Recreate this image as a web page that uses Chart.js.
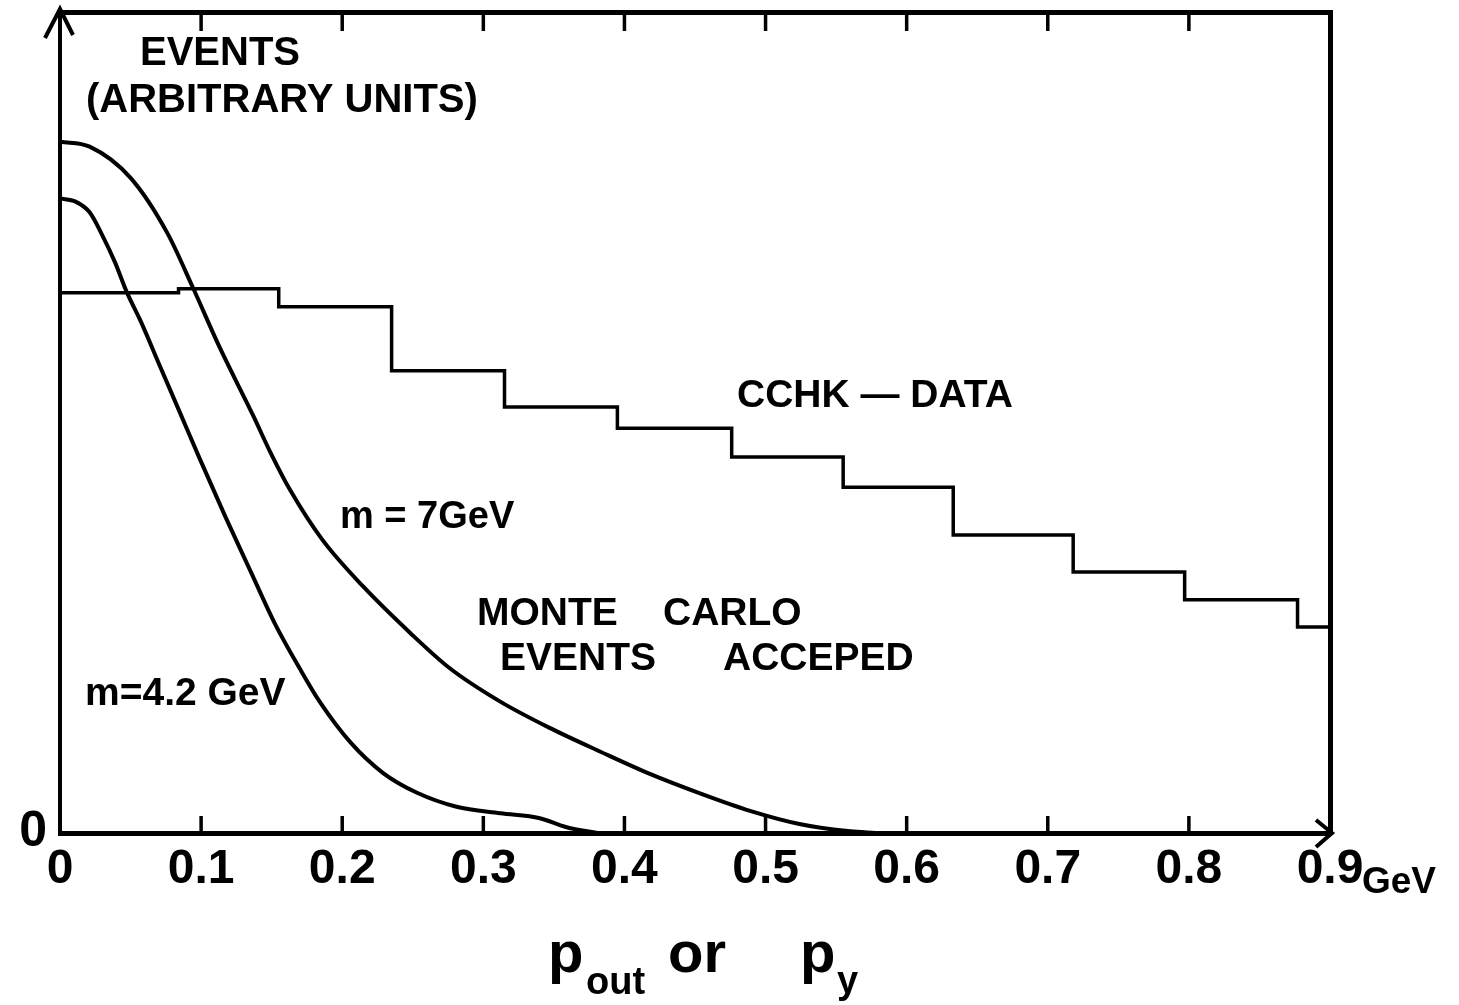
<!DOCTYPE html>
<html>
<head>
<meta charset="utf-8">
<title>p_out distribution</title>
<script src="https://cdn.jsdelivr.net/npm/chart.js@4.4.1/dist/chart.umd.min.js"></script>
<style>
  html, body { margin: 0; padding: 0; background: #fff; }
  #wrap { width: 1459px; height: 1005px; }
</style>
</head>
<body>
<div id="wrap"><canvas id="poutChart" width="1459" height="1005"></canvas></div>
<script>
// x axis ticks (GeV)
const pTicks = [0, 0.1, 0.2, 0.3, 0.4, 0.5, 0.6, 0.7, 0.8, 0.9];
const pTickLabels = ['0', '0.1', '0.2', '0.3', '0.4', '0.5', '0.6', '0.7', '0.8', '0.9'];
const innerTicks = [0.1, 0.2, 0.3, 0.4, 0.5, 0.6, 0.7, 0.8];
// y axis: only the origin is labelled
const yTicks = [0];
const yTickLabels = ['0'];

// CCHK data histogram: left bin edges and heights (arbitrary units)
const binEdges = [0, 0.084, 0.155, 0.235, 0.315, 0.395, 0.476, 0.555, 0.633, 0.718, 0.797, 0.877];
const binEnd = 0.9;
const cchkCounts = [65.8, 66.3, 64.1, 56.3, 51.9, 49.3, 45.8, 42.1, 36.3, 31.8, 28.4, 25.1];

// Monte Carlo accepted events, m = 7 GeV
const p7 = [0, 0.021, 0.050, 0.076, 0.094, 0.113, 0.137, 0.149, 0.163, 0.186, 0.215, 0.248, 0.276, 0.312, 0.347, 0.383, 0.418, 0.454, 0.489, 0.524, 0.560, 0.578];
const mc7 = [84.2, 83.6, 79.8, 73.1, 66.5, 59.2, 50.8, 46.4, 41.8, 35.7, 30.0, 24.4, 20.1, 16.0, 12.8, 9.9, 7.2, 4.8, 2.7, 1.1, 0.2, 0];

// Monte Carlo accepted events, m = 4.2 GeV
const p42 = [0, 0.011, 0.021, 0.030, 0.039, 0.047, 0.057, 0.071, 0.085, 0.099, 0.117, 0.135, 0.152, 0.170, 0.184, 0.206, 0.229, 0.253, 0.281, 0.312, 0.340, 0.359, 0.381];
const mc42 = [77.3, 76.9, 75.6, 72.8, 69.5, 66.0, 62.4, 56.8, 51.2, 45.6, 38.6, 31.9, 25.6, 20.0, 16.0, 11.0, 7.3, 4.9, 3.2, 2.4, 1.8, 0.7, 0];

const INK = '#000';
const FONT = "'Liberation Sans', Arial, sans-serif";

// Hand lettering placed on the plot (pixel positions, baseline)
const notes = [
    { text: 'EVENTS', x: 140, y: 65, size: 40 },
    { text: '(ARBITRARY UNITS)', x: 86, y: 112, size: 40 },
    { text: 'CCHK — DATA', x: 737, y: 407, size: 39 },
    { text: 'm = 7GeV', x: 340, y: 528, size: 38 },
    { text: 'MONTE', x: 477, y: 625, size: 39 },
    { text: 'CARLO', x: 663, y: 625, size: 39 },
    { text: 'EVENTS', x: 500, y: 670, size: 39 },
    { text: 'ACCEPED', x: 723, y: 670, size: 39 },
    { text: 'm=4.2 GeV', x: 85, y: 705, size: 39 },
    { text: 'GeV', x: 1362, y: 893, size: 37 }
];

function toPoints(xs, ys) {
    return xs.map((x, i) => ({ x: x, y: ys[i] }));
}

// Frame tick marks, arrow heads and lettering
const framePlugin = {
    id: 'frameMarks',
    afterDraw(chart) {
        const { ctx, chartArea: a, scales: { x, y } } = chart;
        ctx.save();
        ctx.strokeStyle = INK;
        ctx.lineWidth = 3.5;
        innerTicks.forEach(v => {
            const px = x.getPixelForValue(v);
            ctx.beginPath();
            ctx.moveTo(px, a.bottom);
            ctx.lineTo(px, a.bottom - 17);
            ctx.moveTo(px, a.top);
            ctx.lineTo(px, a.top + 19);
            ctx.stroke();
        });

        // arrows on the value and momentum axes
        ctx.lineWidth = 4;
        ctx.lineJoin = 'miter';
        ctx.beginPath();
        ctx.moveTo(a.left - 15, a.top + 26);
        ctx.lineTo(a.left, a.top - 3);
        ctx.lineTo(a.left + 13, a.top + 23);
        ctx.moveTo(a.right - 14, a.bottom - 13);
        ctx.lineTo(a.right + 2, a.bottom);
        ctx.lineTo(a.right - 14, a.bottom + 14);
        ctx.stroke();

        ctx.fillStyle = INK;
        ctx.textBaseline = 'alphabetic';

        // origin label of the value axis
        ctx.textAlign = 'right';
        ctx.font = 'bold 50px ' + FONT;
        yTicks.forEach((v, i) => ctx.fillText(yTickLabels[i], a.left - 13, y.getPixelForValue(v) + 13));

        ctx.textAlign = 'left';
        notes.forEach(n => {
            ctx.font = 'bold ' + n.size + 'px ' + FONT;
            ctx.fillText(n.text, n.x, n.y);
        });

        // axis title: p_out or p_y
        const big = 'bold 58px ' + FONT;
        const sub = 'bold 38px ' + FONT;
        ctx.font = big; ctx.fillText('p', 548, 972);
        ctx.font = sub; ctx.fillText('out', 586, 994);
        ctx.font = big; ctx.fillText('or', 668, 972);
        ctx.font = big; ctx.fillText('p', 800, 972);
        ctx.font = sub; ctx.fillText('y', 837, 993);
        ctx.restore();
    }
};

const curveStyle = {
    borderColor: INK,
    borderWidth: 4,
    pointRadius: 0,
    fill: false,
    cubicInterpolationMode: 'monotone'
};

const ctx = document.getElementById('poutChart').getContext('2d');
new Chart(ctx, {
    type: 'line',
    data: {
        datasets: [
            Object.assign({ label: 'm = 7 GeV', data: toPoints(p7, mc7) }, curveStyle),
            Object.assign({ label: 'm = 4.2 GeV', data: toPoints(p42, mc42) }, curveStyle),
            {
                label: 'CCHK data',
                data: toPoints(binEdges.concat([binEnd]), cchkCounts.concat([cchkCounts[cchkCounts.length - 1]])),
                borderColor: INK,
                borderWidth: 3.5,
                pointRadius: 0,
                fill: false,
                stepped: 'before'
            }
        ]
    },
    options: {
        responsive: false,
        devicePixelRatio: 1,
        animation: false,
        layout: { padding: 0 },
        plugins: {
            legend: { display: false },
            tooltip: { enabled: false }
        },
        scales: {
            x: {
                type: 'linear',
                position: 'bottom',
                min: 0,
                max: 0.9,
                afterBuildTicks: s => { s.ticks = pTicks.map(v => ({ value: v })); },
                afterFit: s => { s.height = 172; },
                ticks: {
                    color: INK,
                    font: { family: FONT, size: 48, weight: 'bold' },
                    padding: 8,
                    maxRotation: 0,
                    autoSkip: false,
                    callback: (v, i) => pTickLabels[i]
                },
                grid: { display: false, drawTicks: false },
                border: { display: true, color: INK, width: 5 }
            },
            y: {
                type: 'linear',
                position: 'left',
                min: 0,
                max: 100,
                afterFit: s => { s.width = 60; },
                ticks: { display: false },
                grid: { display: false, drawTicks: false },
                border: { display: true, color: INK, width: 4 }
            },
            xTop: {
                type: 'linear',
                position: 'top',
                min: 0,
                max: 0.9,
                afterFit: s => { s.height = 12; },
                ticks: { display: false },
                grid: { display: false, drawTicks: false },
                border: { display: true, color: INK, width: 5 }
            },
            yRight: {
                type: 'linear',
                position: 'right',
                min: 0,
                max: 100,
                afterFit: s => { s.width = 129; },
                ticks: { display: false },
                grid: { display: false, drawTicks: false },
                border: { display: true, color: INK, width: 5 }
            }
        }
    },
    plugins: [framePlugin]
});
</script>
</body>
</html>
